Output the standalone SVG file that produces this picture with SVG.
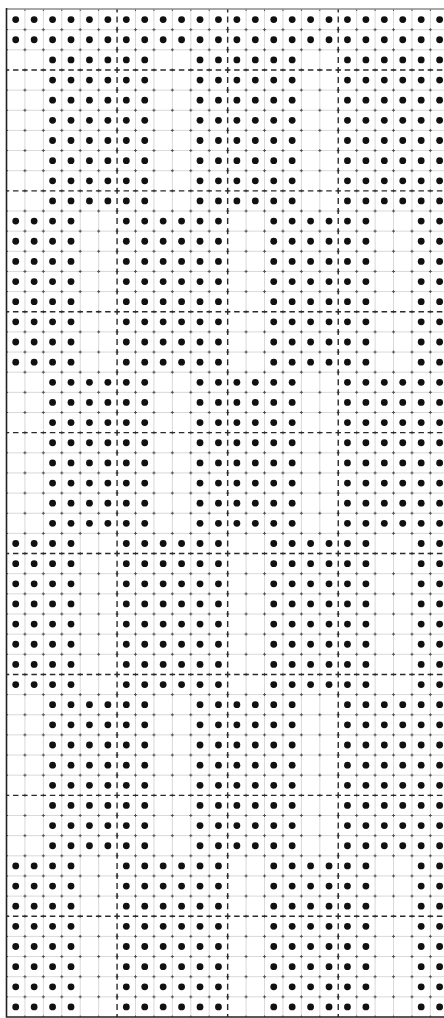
<svg xmlns="http://www.w3.org/2000/svg" width="444" height="1018" viewBox="0 0 444 1018">
<style>
.thin{fill:none;stroke:#cfcfcf;stroke-width:0.8}
.tickh{fill:none;stroke:#555;stroke-width:1;stroke-dasharray:3 15.43;stroke-dashoffset:1.5}
.tickv{fill:none;stroke:#555;stroke-width:1;stroke-dasharray:3 17.15;stroke-dashoffset:1.5}
.majh{fill:none;stroke:#2a2a2a;stroke-width:1.4;stroke-dasharray:5.5 3.715;stroke-dashoffset:2.75}
.majv{fill:none;stroke:#2a2a2a;stroke-width:1.4;stroke-dasharray:6 4.075;stroke-dashoffset:3}
.edge{fill:none;stroke:#222;stroke-width:1.6}
.top{fill:none;stroke:#555;stroke-width:1.1}
.d circle{fill:#111}
</style>
<defs>
<g id="rF" class="d">
<circle cx="15.72" cy="0" r="3.4"/><circle cx="34.15" cy="0" r="3.4"/><circle cx="52.58" cy="0" r="3.4"/><circle cx="71.01" cy="0" r="3.4"/><circle cx="89.44" cy="0" r="3.4"/><circle cx="107.87" cy="0" r="3.4"/><circle cx="126.30" cy="0" r="3.4"/><circle cx="144.73" cy="0" r="3.4"/><circle cx="163.16" cy="0" r="3.4"/><circle cx="181.59" cy="0" r="3.4"/><circle cx="200.02" cy="0" r="3.4"/><circle cx="218.45" cy="0" r="3.4"/><circle cx="236.88" cy="0" r="3.4"/><circle cx="255.31" cy="0" r="3.4"/><circle cx="273.74" cy="0" r="3.4"/><circle cx="292.17" cy="0" r="3.4"/><circle cx="310.60" cy="0" r="3.4"/><circle cx="329.03" cy="0" r="3.4"/><circle cx="347.46" cy="0" r="3.4"/><circle cx="365.89" cy="0" r="3.4"/><circle cx="384.32" cy="0" r="3.4"/><circle cx="402.75" cy="0" r="3.4"/><circle cx="421.18" cy="0" r="3.4"/><circle cx="439.61" cy="0" r="3.4"/>
</g>
<g id="rA" class="d">
<circle cx="52.58" cy="0" r="3.4"/><circle cx="71.01" cy="0" r="3.4"/><circle cx="89.44" cy="0" r="3.4"/><circle cx="107.87" cy="0" r="3.4"/><circle cx="126.30" cy="0" r="3.4"/><circle cx="144.73" cy="0" r="3.4"/><circle cx="200.02" cy="0" r="3.4"/><circle cx="218.45" cy="0" r="3.4"/><circle cx="236.88" cy="0" r="3.4"/><circle cx="255.31" cy="0" r="3.4"/><circle cx="273.74" cy="0" r="3.4"/><circle cx="292.17" cy="0" r="3.4"/><circle cx="347.46" cy="0" r="3.4"/><circle cx="365.89" cy="0" r="3.4"/><circle cx="384.32" cy="0" r="3.4"/><circle cx="402.75" cy="0" r="3.4"/><circle cx="421.18" cy="0" r="3.4"/><circle cx="439.61" cy="0" r="3.4"/>
</g>
<g id="rB" class="d">
<circle cx="15.72" cy="0" r="3.4"/><circle cx="34.15" cy="0" r="3.4"/><circle cx="52.58" cy="0" r="3.4"/><circle cx="71.01" cy="0" r="3.4"/><circle cx="126.30" cy="0" r="3.4"/><circle cx="144.73" cy="0" r="3.4"/><circle cx="163.16" cy="0" r="3.4"/><circle cx="181.59" cy="0" r="3.4"/><circle cx="200.02" cy="0" r="3.4"/><circle cx="218.45" cy="0" r="3.4"/><circle cx="273.74" cy="0" r="3.4"/><circle cx="292.17" cy="0" r="3.4"/><circle cx="310.60" cy="0" r="3.4"/><circle cx="329.03" cy="0" r="3.4"/><circle cx="347.46" cy="0" r="3.4"/><circle cx="365.89" cy="0" r="3.4"/><circle cx="421.18" cy="0" r="3.4"/><circle cx="439.61" cy="0" r="3.4"/>
</g>
</defs>
<rect width="444" height="1018" fill="#ffffff"/>
<g id="grid">
<path class="thin" d="M6.5 29.65H444M6.5 49.8H444M6.5 90.1H444M6.5 110.25H444M6.5 130.4H444M6.5 150.55H444M6.5 170.7H444M6.5 211H444M6.5 231.15H444M6.5 251.3H444M6.5 271.45H444M6.5 291.6H444M6.5 331.9H444M6.5 352.05H444M6.5 372.2H444M6.5 392.35H444M6.5 412.5H444M6.5 452.8H444M6.5 472.95H444M6.5 493.1H444M6.5 513.25H444M6.5 533.4H444M6.5 573.7H444M6.5 593.85H444M6.5 614H444M6.5 634.15H444M6.5 654.3H444M6.5 694.6H444M6.5 714.75H444M6.5 734.9H444M6.5 755.05H444M6.5 775.2H444M6.5 815.5H444M6.5 835.65H444M6.5 855.8H444M6.5 875.95H444M6.5 896.1H444M6.5 936.4H444M6.5 956.55H444M6.5 976.7H444M6.5 996.85H444"/>
<path class="thin" d="M24.93 9.5V1017M43.36 9.5V1017M61.79 9.5V1017M80.22 9.5V1017M98.65 9.5V1017M135.51 9.5V1017M153.94 9.5V1017M172.37 9.5V1017M190.8 9.5V1017M209.23 9.5V1017M246.09 9.5V1017M264.52 9.5V1017M282.95 9.5V1017M301.38 9.5V1017M319.81 9.5V1017M356.67 9.5V1017M375.1 9.5V1017M393.53 9.5V1017M411.96 9.5V1017M430.39 9.5V1017"/>
<path class="tickh" d="M6.5 29.65H444M6.5 49.8H444M6.5 69.95H444M6.5 90.1H444M6.5 110.25H444M6.5 130.4H444M6.5 150.55H444M6.5 170.7H444M6.5 190.85H444M6.5 211H444M6.5 231.15H444M6.5 251.3H444M6.5 271.45H444M6.5 291.6H444M6.5 311.75H444M6.5 331.9H444M6.5 352.05H444M6.5 372.2H444M6.5 392.35H444M6.5 412.5H444M6.5 432.65H444M6.5 452.8H444M6.5 472.95H444M6.5 493.1H444M6.5 513.25H444M6.5 533.4H444M6.5 553.55H444M6.5 573.7H444M6.5 593.85H444M6.5 614H444M6.5 634.15H444M6.5 654.3H444M6.5 674.45H444M6.5 694.6H444M6.5 714.75H444M6.5 734.9H444M6.5 755.05H444M6.5 775.2H444M6.5 795.35H444M6.5 815.5H444M6.5 835.65H444M6.5 855.8H444M6.5 875.95H444M6.5 896.1H444M6.5 916.25H444M6.5 936.4H444M6.5 956.55H444M6.5 976.7H444M6.5 996.85H444"/>
<path class="tickv" d="M24.93 9.5V1017M43.36 9.5V1017M61.79 9.5V1017M80.22 9.5V1017M98.65 9.5V1017M117.08 9.5V1017M135.51 9.5V1017M153.94 9.5V1017M172.37 9.5V1017M190.8 9.5V1017M209.23 9.5V1017M227.66 9.5V1017M246.09 9.5V1017M264.52 9.5V1017M282.95 9.5V1017M301.38 9.5V1017M319.81 9.5V1017M338.24 9.5V1017M356.67 9.5V1017M375.1 9.5V1017M393.53 9.5V1017M411.96 9.5V1017M430.39 9.5V1017"/>
</g>
<g id="major-lines">
<path class="majh" d="M6.5 69.95H444M6.5 190.85H444M6.5 311.75H444M6.5 432.65H444M6.5 553.55H444M6.5 674.45H444M6.5 795.35H444M6.5 916.25H444"/>
<path class="majv" d="M117.08 9.5V1017M227.66 9.5V1017M338.24 9.5V1017"/>
</g>
<g id="border">
<path class="top" d="M6.5 9H444"/>
<path class="edge" d="M6.5 8V1017.8M6.5 1017H444"/>
</g>
<g id="dots">
<use href="#rF" y="19.58"/><use href="#rF" y="39.73"/>
<use href="#rA" y="59.88"/><use href="#rA" y="80.03"/><use href="#rA" y="100.18"/><use href="#rA" y="120.33"/><use href="#rA" y="140.48"/><use href="#rA" y="160.63"/><use href="#rA" y="180.78"/><use href="#rA" y="200.93"/>
<use href="#rB" y="221.08"/><use href="#rB" y="241.23"/><use href="#rB" y="261.38"/><use href="#rB" y="281.53"/><use href="#rB" y="301.68"/><use href="#rB" y="321.83"/><use href="#rB" y="341.98"/><use href="#rB" y="362.13"/>
<use href="#rA" y="382.28"/><use href="#rA" y="402.43"/><use href="#rA" y="422.58"/><use href="#rA" y="442.73"/><use href="#rA" y="462.88"/><use href="#rA" y="483.03"/><use href="#rA" y="503.18"/><use href="#rA" y="523.33"/>
<use href="#rB" y="543.48"/><use href="#rB" y="563.63"/><use href="#rB" y="583.78"/><use href="#rB" y="603.93"/><use href="#rB" y="624.08"/><use href="#rB" y="644.23"/><use href="#rB" y="664.38"/><use href="#rB" y="684.53"/>
<use href="#rA" y="704.68"/><use href="#rA" y="724.83"/><use href="#rA" y="744.98"/><use href="#rA" y="765.13"/><use href="#rA" y="785.28"/><use href="#rA" y="805.43"/><use href="#rA" y="825.58"/><use href="#rA" y="845.73"/>
<use href="#rB" y="865.88"/><use href="#rB" y="886.03"/><use href="#rB" y="906.18"/><use href="#rB" y="926.33"/><use href="#rB" y="946.48"/><use href="#rB" y="966.63"/><use href="#rB" y="986.78"/><use href="#rB" y="1006.93"/>
</g>
</svg>
